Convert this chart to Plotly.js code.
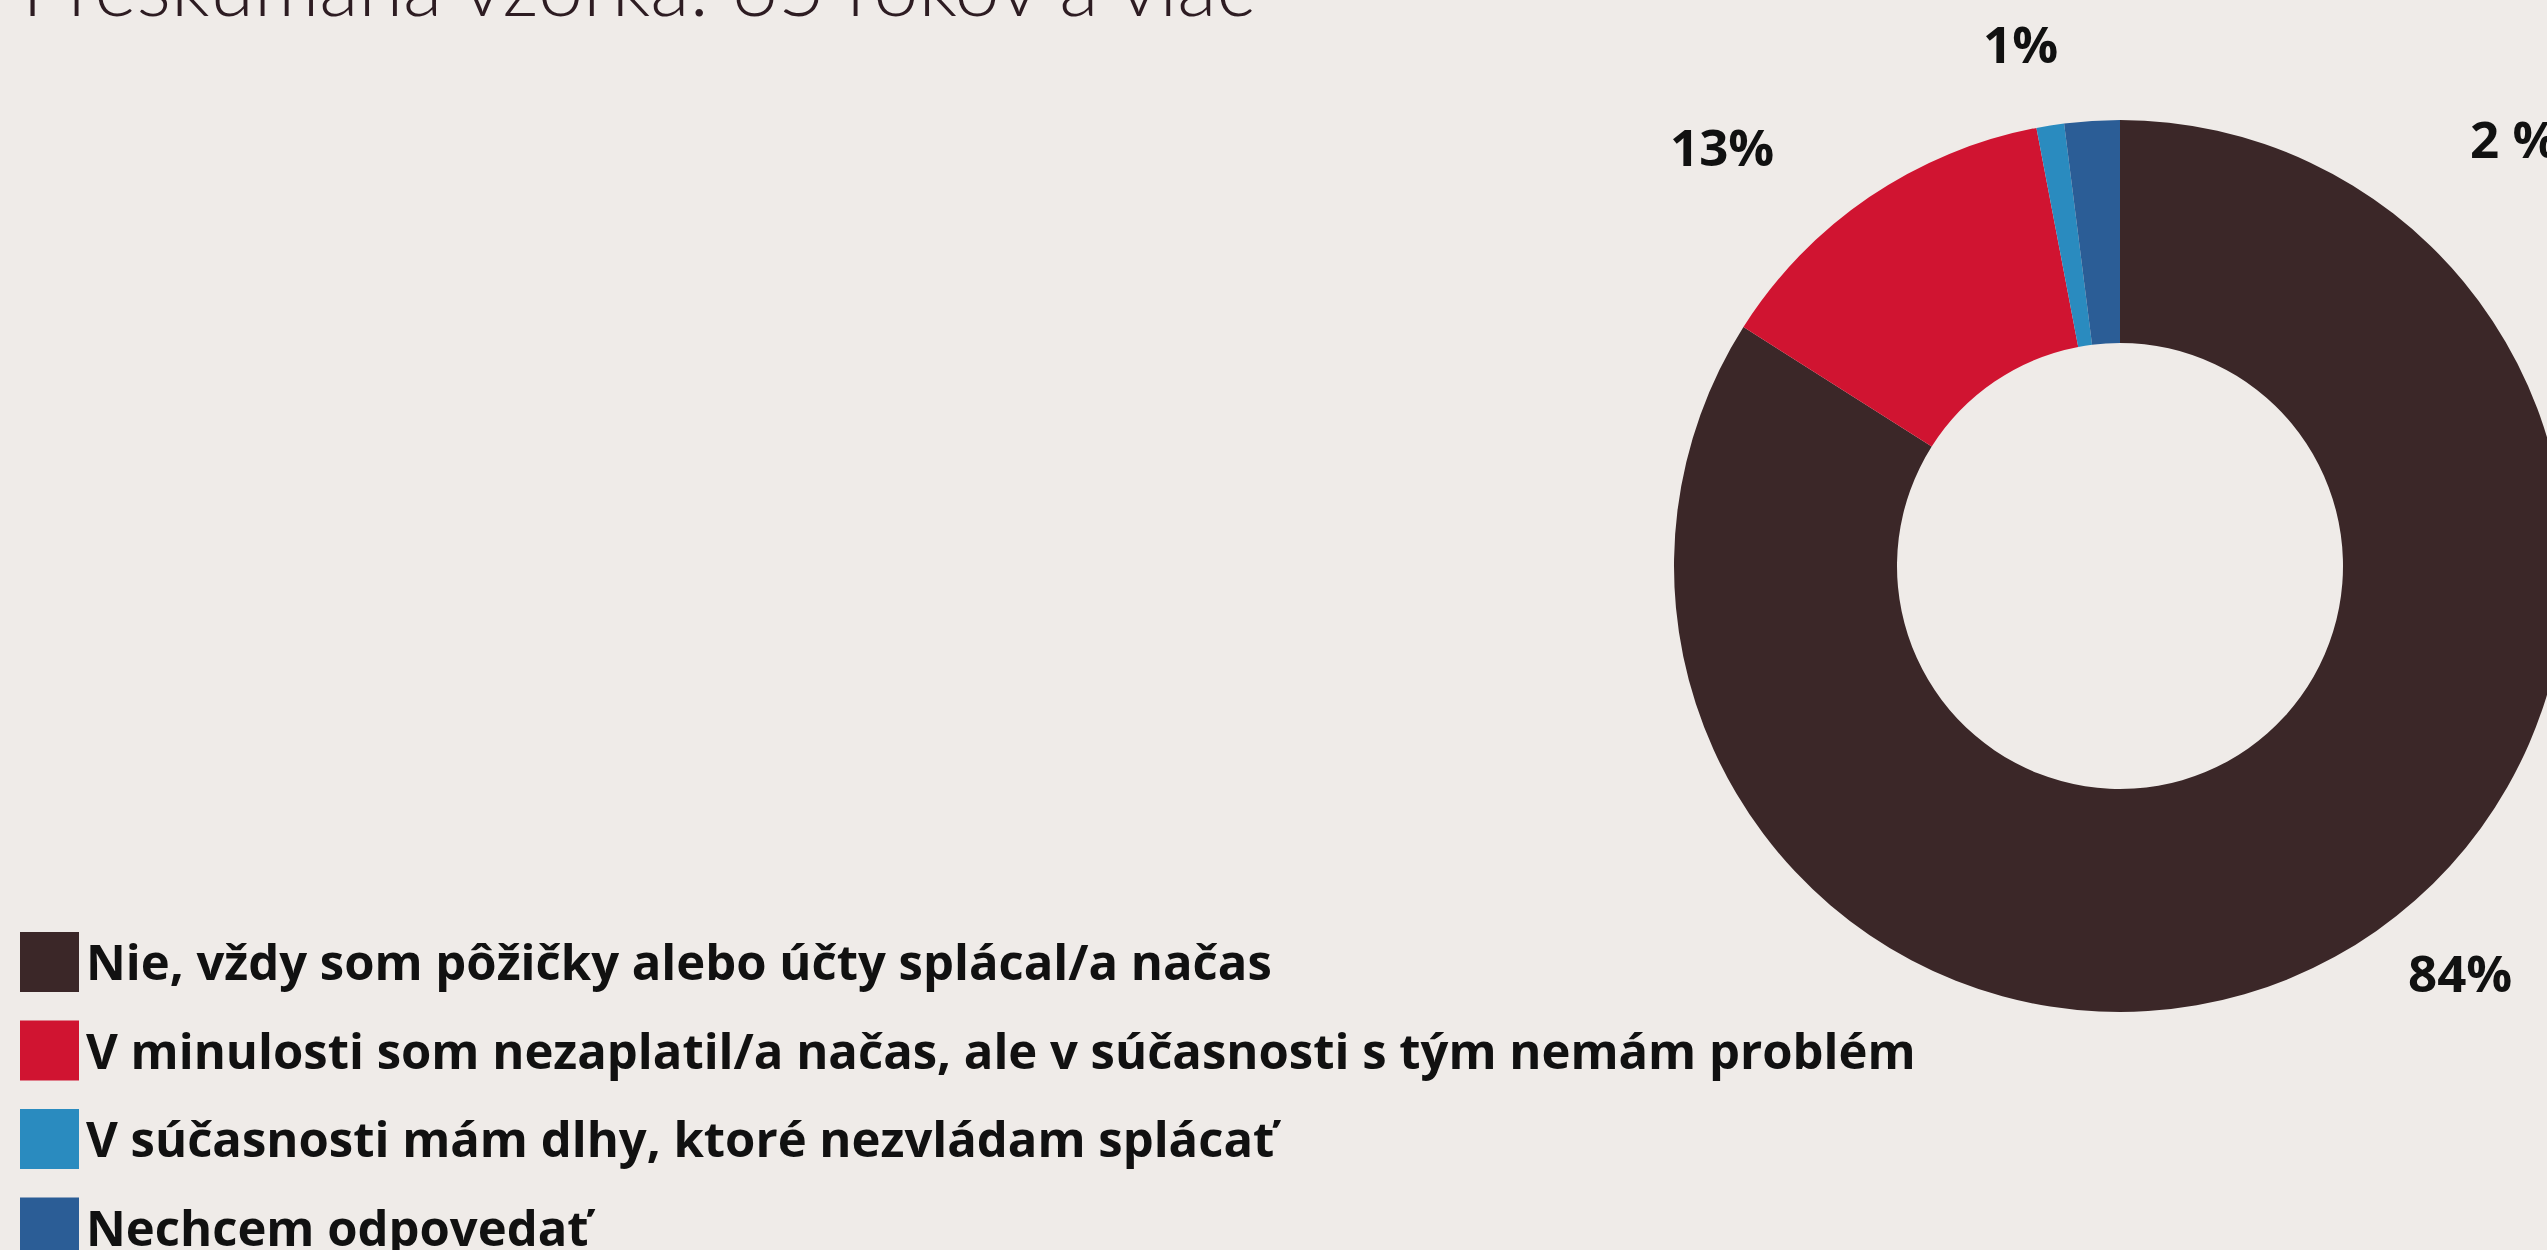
<!DOCTYPE html>
<html>
<head>
<meta charset="utf-8">
<script src="https://cdn.plot.ly/plotly-3.0.1.min.js"></script>
<style>
  html, body { margin: 0; padding: 0; overflow: hidden; background: #efebe8; }
  #chart { width: 2700px; height: 1250px; }
</style>
</head>
<body>
<div id="chart"></div>
<script>
// ---- data ----
const titleText = 'Preskúmaná vzorka: 65 rokov a viac';
const categories = [
  'Nie, vždy som pôžičky alebo účty splácal/a načas',
  'V minulosti som nezaplatil/a načas, ale v súčasnosti s tým nemám problém',
  'V súčasnosti mám dlhy, ktoré nezvládam splácať',
  'Nechcem odpovedať'
];
const values = [84, 13, 1, 2];
const valueLabels = ['84%', '13%', '1%', '2 %'];
const colors = ['#3b2728', '#d01431', '#2a8bbf', '#2b5d96'];

// ---- layout helpers (pixel -> paper) ----
const W = 2700, H = 1250;
const px = x => x / W;
const py = y => 1 - y / H;

// pie geometry
const cx = 2120, cy = 566, R = 446;

const labelPos = [
  {x: 2460, y: 972, anchor: 'center'},
  {x: 1722, y: 146, anchor: 'center'},
  {x: 2020, y: 43, anchor: 'center'},
  {x: 2468, y: 138, anchor: 'left'}
];

const annotations = [];
const shapes = [];

// title (cut off at top as in the reference)
annotations.push({
  text: titleText, xref: 'paper', yref: 'paper',
  x: px(20), y: py(35), xanchor: 'left', yanchor: 'bottom',
  showarrow: false,
  font: {family: 'Lato, "Open Sans", sans-serif', size: 81, weight: 300, color: '#2d1c22'}
});

// value labels
values.forEach((v, i) => {
  annotations.push({
    text: valueLabels[i], xref: 'paper', yref: 'paper',
    x: px(labelPos[i].x), y: py(labelPos[i].y),
    xanchor: labelPos[i].anchor, yanchor: 'middle', showarrow: false,
    font: {family: '"Open Sans", "Noto Sans", sans-serif', size: 51, weight: 700, color: '#111111'}
  });
});

// custom legend
const legTop = 962, legStep = 88.5, sq = 59;
categories.forEach((c, i) => {
  const yc = legTop + i * legStep;
  shapes.push({
    type: 'rect', xref: 'paper', yref: 'paper',
    x0: px(20), x1: px(20 + sq), y0: py(yc - sq / 2 - 0.5), y1: py(yc + sq / 2 + 0.5),
    fillcolor: colors[i], line: {width: 0}
  });
  annotations.push({
    text: c, xref: 'paper', yref: 'paper',
    x: px(84), y: py(yc - 1), xanchor: 'left', yanchor: 'middle', showarrow: false,
    font: {family: '"Open Sans", "Noto Sans", sans-serif', size: 49, weight: 700, color: '#111111'}
  });
});

const trace = {
  type: 'pie',
  labels: categories,
  values: values,
  hole: 0.5,
  sort: false,
  direction: 'clockwise',
  rotation: 0,
  textinfo: 'none',
  hoverinfo: 'label+percent',
  marker: {colors: colors, line: {width: 0}},
  domain: {x: [px(cx - R - 60), px(cx + R + 60)], y: [py(cy + R), py(cy - R)]},
  showlegend: false
};

const layout = {
  width: W, height: H,
  margin: {l: 0, r: 0, t: 0, b: 0},
  paper_bgcolor: '#efebe8',
  plot_bgcolor: '#efebe8',
  showlegend: false,
  annotations: annotations,
  shapes: shapes
};

Plotly.newPlot('chart', [trace], layout, {displayModeBar: false, staticPlot: true});
</script>
</body>
</html>
